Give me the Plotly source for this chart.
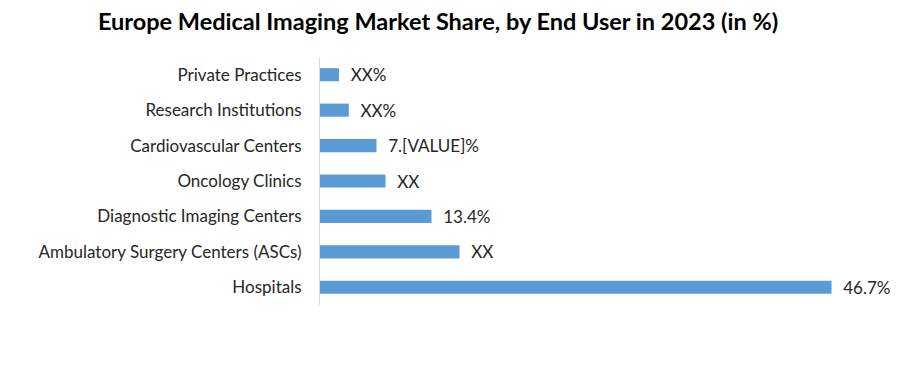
import plotly.graph_objects as go

categories = ["Hospitals", "Ambulatory Surgery Centers (ASCs)", "Diagnostic Imaging Centers",
              "Oncology Clinics", "Cardiovascular Centers", "Research Institutions", "Private Practices"]
values = [46.7, 12.74, 10.18, 5.98, 5.16, 2.63, 1.73]
value_labels = ["46.7%", "XX", "13.4%", "XX", "7.[VALUE]%", "XX%", "XX%"]

W, H = 900, 374
L, R, T, B = 320, 20, 57, 69
px_per_unit = (832 - 320.5) / 46.7
xmax = (W - L - R) / px_per_unit

fig = go.Figure(go.Bar(
    y=categories, x=values, orientation="h",
    marker=dict(color="#5B9BD5", line=dict(width=0)),
    width=0.37,
    text=value_labels, texttemplate="  %{text}",
    textposition="outside", constraintext="none",
    textfont=dict(family="Lato", size=17, color="#262626"),
    cliponaxis=False,
))

fig.update_layout(
    width=W, height=H,
    margin=dict(l=L, r=R, t=T, b=B, autoexpand=False),
    paper_bgcolor="white", plot_bgcolor="white",
    title=dict(text="<b>Europe Medical Imaging Market Share, by End User in 2023 (in %)</b>",
               x=438 / W, xanchor="center", y=1 - 22 / H, yanchor="middle",
               yref="container",
               font=dict(family="Lato", size=23.5, color="#000000")),
    xaxis=dict(range=[0, xmax], visible=False, showgrid=False, zeroline=False, automargin=False),
    yaxis=dict(showline=True, linecolor="#D9D9D9", linewidth=1, ticks="",
               tickfont=dict(family="Lato", size=17, color="#262626"),
               ticklabelstandoff=14, showgrid=False, automargin=False),
    showlegend=False,
)

fig.write_html("out.html", config={"displayModeBar": False},
               post_script="document.body.style.margin='0';document.body.style.overflow='hidden';")
